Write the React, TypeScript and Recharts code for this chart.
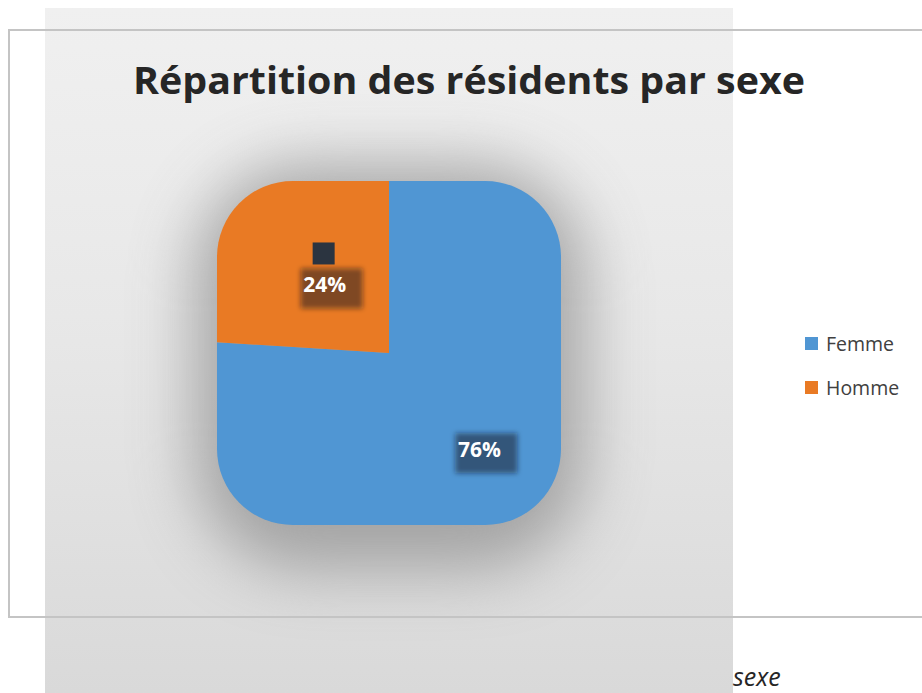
import { PieChart, Pie, Cell, Sector, Legend } from 'recharts'

const categories = ['Femme', 'Homme']
const values = [76, 24]
const colors = ['#5096d3', '#e97a24']

const TITLE = 'Répartition des résidents par sexe'
const CAPTION = 'sexe'

const data = categories.map((name, i) => ({ name, value: values[i] }))

// label distance from centre, per slice (Excel best fit)
const LABEL_RADIUS = [132, 94]
const RADIAN = Math.PI / 180

const FONT = '"Open Sans", "Liberation Sans", sans-serif'

function RoundedSlice(props: any) {
  const id = `slice-clip-${props.index ?? props.name}`
  const { cx, cy } = props
  const half = 172
  return (
    <g>
      <defs>
        <clipPath id={id}>
          <rect x={cx - half} y={cy - half} width={half * 2} height={half * 2} rx={76} ry={76} />
        </clipPath>
      </defs>
      <Sector {...props} stroke="none" clipPath={`url(#${id})`} />
    </g>
  )
}

function SliceLabel(props: any) {
  const { cx, cy, midAngle, percent, index } = props
  const r = LABEL_RADIUS[index] ?? 110
  const x = cx + r * Math.cos(-midAngle * RADIAN)
  const y = cy + r * Math.sin(-midAngle * RADIAN)
  const fid = `lbl-blur-${index}`
  return (
    <g>
      <defs>
        <filter id={fid} x="-50%" y="-50%" width="200%" height="200%">
          <feGaussianBlur stdDeviation="2.5" />
        </filter>
      </defs>
      <rect x={x - 24} y={y - 16} width={62} height={40} fill="rgba(20,25,35,0.5)" filter={`url(#${fid})`} />
      {index === 1 && (
        <rect x={x - 12} y={y - 42} width={22} height={22} fill="#2b3440" />
      )}
      <text
        x={x}
        y={y}
        textAnchor="middle"
        dominantBaseline="central"
        fill="#ffffff"
        fontFamily={FONT}
        fontWeight={700}
        fontSize={21}
      >
        {`${Math.round(percent * 100)}%`}
      </text>
    </g>
  )
}

function LegendList({ payload }: any) {
  return (
    <ul style={{ listStyle: 'none', margin: 0, padding: 0 }}>
      {(payload || []).map((entry: any) => (
        <li
          key={entry.value}
          style={{ display: 'flex', alignItems: 'center', height: 44, fontFamily: FONT, fontSize: 19.5, color: '#404040' }}
        >
          <span style={{ width: 13, height: 13, background: entry.color, marginRight: 8, display: 'inline-block' }} />
          {entry.value}
        </li>
      ))}
    </ul>
  )
}

export default function App() {
  return (
    <div style={{ position: 'fixed', left: 0, top: 0, width: 922, height: 693, background: '#ffffff', overflow: 'hidden' }}>
      {/* grey backdrop */}
      <div
        style={{
          position: 'absolute', left: 45, top: 8, width: 688, height: 685,
          background: 'linear-gradient(180deg, #f0f0f0 0%, #e8e8e8 45%, #d9d9d9 100%)',
        }}
      />
      {/* soft shadow behind pie */}
      <div
        style={{
          position: 'absolute', left: 195, top: 165, width: 390, height: 405,
          borderRadius: 110, background: '#949494', filter: 'blur(32px)', opacity: 0.8,
        }}
      />
      {/* chart frame */}
      <div
        style={{
          position: 'absolute', left: 8, top: 29, width: 940, height: 589,
          border: '2px solid #c4c4c4', boxSizing: 'border-box',
        }}
      />
      <svg width={922} height={140} style={{ position: 'absolute', left: 0, top: 0 }}>
        <text
          x={469}
          y={94}
          textAnchor="middle"
          textLength={672}
          lengthAdjust="spacingAndGlyphs"
          fontFamily={FONT}
          fontWeight={700}
          fontSize={38}
          fill="#262626"
        >
          {TITLE}
        </text>
      </svg>
      <div style={{ position: 'absolute', left: 0, top: 0 }}>
        <PieChart width={922} height={693} margin={{ top: 0, right: 0, bottom: 0, left: 0 }}>
          <Pie
            data={data}
            dataKey="value"
            nameKey="name"
            cx={389}
            cy={353}
            outerRadius={260}
            startAngle={90}
            endAngle={-270}
            stroke="none"
            shape={RoundedSlice}
            activeShape={RoundedSlice}
            label={SliceLabel}
            labelLine={false}
            isAnimationActive={false}
          >
            {data.map((_, i) => (
              <Cell key={i} fill={colors[i]} />
            ))}
          </Pie>
          <Legend
            layout="vertical"
            verticalAlign="middle"
            align="right"
            content={LegendList}
            wrapperStyle={{ left: 805, top: 321, width: 120, right: 'auto' }}
          />
        </PieChart>
      </div>
      <div
        style={{
          position: 'absolute', left: 733, top: 660, fontFamily: FONT,
          fontStyle: 'italic', fontSize: 25, color: '#262626', lineHeight: '32px',
        }}
      >
        {CAPTION}
      </div>
    </div>
  )
}
